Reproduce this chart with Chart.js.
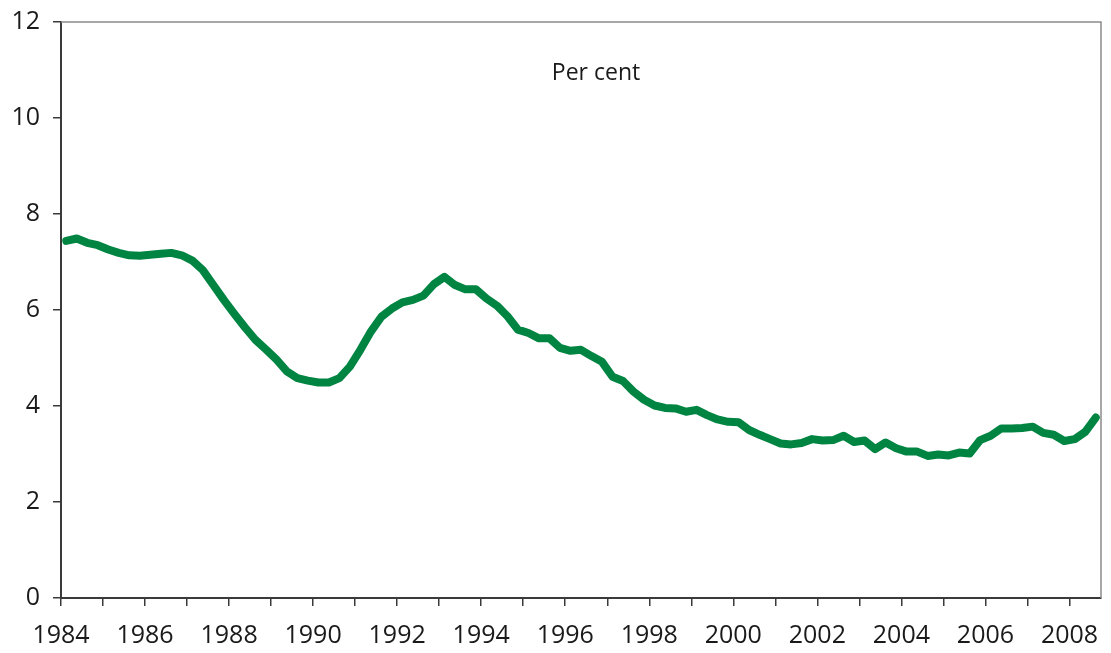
<!DOCTYPE html>
<html>
<head>
<meta charset="utf-8">
<title>Per cent, 1984-2008</title>
<script src="https://cdn.jsdelivr.net/npm/chart.js@4/dist/chart.umd.min.js"></script>
<style>
    html, body { margin: 0; padding: 0; background: #fff; }
    #wrap { width: 1111px; height: 653px; position: relative; }
</style>
</head>
<body>
<div id="wrap"><canvas id="rateChart"></canvas></div>
<script>
// Quarterly series, 1984 Q1 to 2008 Q3 (per cent)
const startYear = 1984;
const rates = [
    7.44, 7.49, 7.40, 7.35,   // 1984
    7.26, 7.19, 7.14, 7.13,   // 1985
    7.15, 7.17, 7.19, 7.14,   // 1986
    7.03, 6.83, 6.52, 6.21,   // 1987
    5.92, 5.64, 5.38, 5.18,   // 1988
    4.97, 4.72, 4.58, 4.53,   // 1989
    4.49, 4.49, 4.58, 4.82,   // 1990
    5.17, 5.55, 5.86, 6.03,   // 1991
    6.16, 6.21, 6.30, 6.54,   // 1992
    6.69, 6.52, 6.43, 6.43,   // 1993
    6.24, 6.09, 5.87, 5.59,   // 1994
    5.52, 5.41, 5.41, 5.21,   // 1995
    5.15, 5.17, 5.04, 4.92,   // 1996
    4.61, 4.52, 4.30, 4.13,   // 1997
    4.01, 3.96, 3.95, 3.88,   // 1998
    3.92, 3.81, 3.72, 3.67,   // 1999
    3.66, 3.50, 3.40, 3.31,   // 2000
    3.22, 3.20, 3.23, 3.31,   // 2001
    3.28, 3.29, 3.38, 3.25,   // 2002
    3.28, 3.10, 3.24, 3.12,   // 2003
    3.05, 3.05, 2.96, 2.99,   // 2004
    2.97, 3.03, 3.01, 3.29,   // 2005
    3.38, 3.53, 3.53, 3.54,   // 2006
    3.57, 3.44, 3.40, 3.27,   // 2007
    3.31, 3.46, 3.76          // 2008
];

// Quarter labels built from the start year
const quarterLabels = rates.map((v, i) => `${startYear + Math.floor(i / 4)} Q${i % 4 + 1}`);

// Axis ticks
const xLabelYears = [1984, 1986, 1988, 1990, 1992, 1994, 1996, 1998, 2000, 2002, 2004, 2006, 2008];
const yTicks = [0, 2, 4, 6, 8, 10, 12];
const unitLabel = 'Per cent';

// Each quarter sits at the middle of its quarter on the time axis
const points = rates.map((v, i) => ({ x: startYear + (i + 0.5) / 4, y: v, label: quarterLabels[i] }));

Chart.defaults.font.family = "'Open Sans', 'Noto Sans', sans-serif";
Chart.defaults.color = '#1a1a1a';

// Grey frame on the top and right, plus the unit note
const framePlugin = {
    id: 'frame',
    afterDraw(chart) {
        const { ctx, chartArea } = chart;
        ctx.save();
        ctx.strokeStyle = '#8c8c8c';
        ctx.lineWidth = 1.5;
        ctx.beginPath();
        ctx.moveTo(chartArea.left, chartArea.top);
        ctx.lineTo(chartArea.right, chartArea.top);
        ctx.lineTo(chartArea.right, chartArea.bottom);
        ctx.stroke();

        ctx.fillStyle = '#1a1a1a';
        ctx.font = "23px 'Open Sans', 'Noto Sans', sans-serif";
        ctx.textAlign = 'center';
        ctx.textBaseline = 'middle';
        ctx.fillText(unitLabel, chartArea.left + 535, chartArea.top + 51);
        ctx.restore();
    }
};

new Chart(document.getElementById('rateChart'), {
    type: 'line',
    data: {
        datasets: [{
            label: unitLabel,
            data: points,
            borderColor: '#008442',
            borderWidth: 8,
            borderJoinStyle: 'round',
            borderCapStyle: 'round',
            pointRadius: 0,
            tension: 0,
            fill: false
        }]
    },
    options: {
        responsive: true,
        maintainAspectRatio: false,
        animation: false,
        layout: {
            padding: { top: 22, right: 10, bottom: 0, left: 0 }
        },
        plugins: {
            legend: { display: false },
            tooltip: { enabled: false }
        },
        scales: {
            x: {
                type: 'linear',
                min: 1984,
                max: 2008.75,
                afterFit: scale => {
                    scale.height = 55;
                    scale.paddingLeft = 0;
                    scale.paddingRight = 0;
                },
                border: { color: '#3a3a3a', width: 2 },
                grid: {
                    drawOnChartArea: false,
                    drawTicks: true,
                    tickLength: 8,
                    color: '#3a3a3a',
                    lineWidth: 1.5
                },
                ticks: {
                    stepSize: 1,
                    includeBounds: false,
                    autoSkip: false,
                    maxRotation: 0,
                    padding: 15,
                    font: { size: 25 },
                    callback: value => xLabelYears.includes(value) ? String(value) : ''
                }
            },
            y: {
                min: 0,
                max: 12,
                afterFit: scale => {
                    scale.width = 61;
                    scale.paddingTop = 0;
                    scale.paddingBottom = 0;
                },
                afterBuildTicks: scale => { scale.ticks = yTicks.map(v => ({ value: v })); },
                border: { color: '#3a3a3a', width: 2 },
                grid: {
                    drawOnChartArea: false,
                    drawTicks: true,
                    tickLength: 8,
                    color: '#3a3a3a',
                    lineWidth: 1.5
                },
                ticks: {
                    padding: 13,
                    font: { size: 25 }
                }
            }
        }
    },
    plugins: [framePlugin]
});
</script>
</body>
</html>
